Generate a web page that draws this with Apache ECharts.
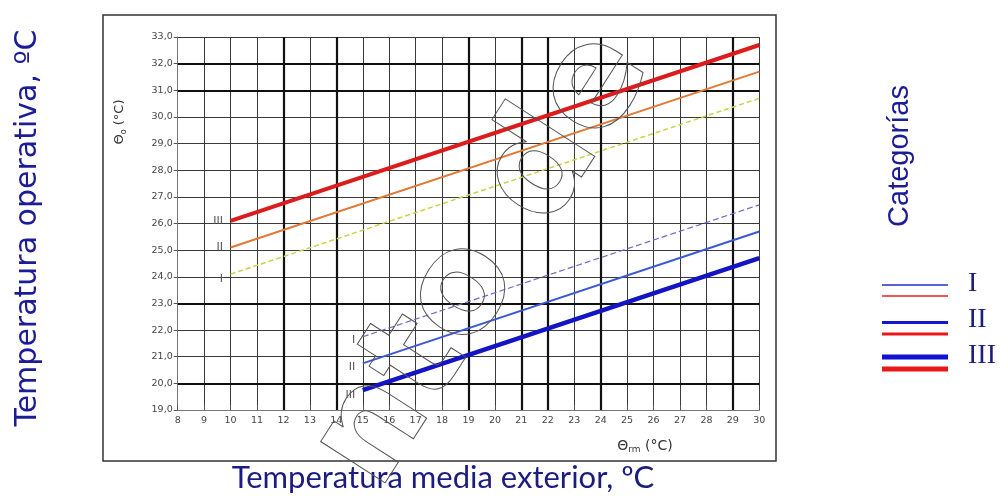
<!DOCTYPE html>
<html>
<head>
<meta charset="utf-8">
<script src="https://cdn.jsdelivr.net/npm/echarts@6/dist/echarts.min.js"></script>
<style>
html,body{margin:0;padding:0;background:#fff;}
#c{width:1001px;height:496px;}
</style>
</head>
<body>
<div id="c"></div>
<script>
// ---- data ----
const xTicks = [8, 30];            // x axis range (°C)
const yTicks = [19, 33];           // y axis range (°C)
const upperX = [10, 30];
const upperI = [24.1, 30.7];
const upperII = [25.1, 31.7];
const upperIII = [26.1, 32.7];
const lowerX = [15, 30];
const lowerI = [21.75, 26.7];
const lowerII = [20.75, 25.7];
const lowerIII = [19.75, 24.7];
const boldX = [12, 14, 19, 21, 22, 24, 29];
const boldY = [20, 23, 31, 32];
const catLabels = ['I', 'II', 'III'];

function pts(xs, ys) { return xs.map((x, i) => [x, ys[i]]); }

const chart = echarts.init(document.getElementById('c'), null, {renderer: 'canvas'});

function lineSeries(name, xs, ys, color, width, type, lbl, lblOffset) {
  const d = pts(xs, ys).map((p, i) => i === 0 ? {
    value: p,
    label: {show: true, position: 'left', distance: 7, offset: lblOffset || [0, 0],
      formatter: lbl, color: '#555', fontSize: 11, fontFamily: 'DejaVu Sans'}
  } : {value: p, label: {show: false}});
  return {
    name, type: 'line', data: d, symbol: 'circle', symbolSize: 1, showSymbol: true,
    itemStyle: {color: 'rgba(0,0,0,0)'},
    lineStyle: {color, width, type}, z: 5, silent: true, animation: false,
    clip: false, label: {show: false}
  };
}

const option = {
  animation: false,
  backgroundColor: '#fff',
  grid: {left: 177.7, right: 241.7, top: 37, bottom: 86, containLabel: false},
  xAxis: {
    type: 'value', min: xTicks[0], max: xTicks[1], interval: 1,
    axisLine: {show: true, lineStyle: {color: '#777', width: 1}},
    axisTick: {show: true, inside: true, length: 5, lineStyle: {color: '#555'}},
    axisLabel: {color: '#444', fontSize: 9.5, fontFamily: 'DejaVu Sans', margin: 6},
    splitLine: {show: true, lineStyle: {color: '#3a3a3a', width: 1}}
  },
  yAxis: {
    type: 'value', min: yTicks[0], max: yTicks[1], interval: 1,
    axisLine: {show: true, lineStyle: {color: '#777', width: 1}},
    axisTick: {show: true, length: 4, lineStyle: {color: '#555'}},
    axisLabel: {color: '#444', fontSize: 9.5, fontFamily: 'DejaVu Sans', margin: 5,
      formatter: v => v.toFixed(1).replace('.', ',')},
    splitLine: {show: true, lineStyle: {color: '#3a3a3a', width: 1}}
  },
  series: [
    {
      type: 'line', data: [], silent: true,
      markLine: {
        silent: true, symbol: 'none', animation: false,
        label: {show: false},
        lineStyle: {color: '#111', width: 2.2, type: 'solid'},
        data: boldX.map(v => ({xAxis: v})).concat(boldY.map(v => ({yAxis: v})))
      }
    },
    lineSeries('I sup', upperX, upperI, '#c8d24a', 1.5, [5, 3], catLabels[0], [0, 5]),
    lineSeries('II sup', upperX, upperII, '#e07a36', 2, 'solid', catLabels[1], [0, 0]),
    lineSeries('III sup', upperX, upperIII, '#dc1c1c', 4, 'solid', catLabels[2], [0, 0]),
    lineSeries('I inf', lowerX, lowerI, '#6c6cc8', 1.2, [6, 3], catLabels[0], [0, 3]),
    lineSeries('II inf', lowerX, lowerII, '#3d58d6', 2, 'solid', catLabels[1], [0, 4]),
    lineSeries('III inf', lowerX, lowerIII, '#1414c4', 4.5, 'solid', catLabels[2], [0, 5])
  ],
  graphic: [
    // inner figure frame
    {type: 'rect', shape: {x: 103, y: 15, width: 673, height: 446},
     style: {fill: 'none', stroke: '#333', lineWidth: 1.5}, z: 0, silent: true},
    // watermark (outlined text)
    {type: 'text', x: 485, y: 260, rotation: 1.0, z: 20, silent: true,
     style: {text: 'nto de', align: 'center', verticalAlign: 'middle',
       fontSize: 140, fontWeight: 'bold', fontFamily: 'DejaVu Sans',
       fill: 'rgba(0,0,0,0)', stroke: '#555', lineWidth: 1}},
    // inner axis names
    {type: 'text', x: 120, y: 122, rotation: Math.PI / 2, z: 10,
     style: {text: '{a|Θ}{s|o}{a| (°C)}', align: 'center', verticalAlign: 'middle',
       rich: {a: {fontSize: 13, fill: '#333', fontFamily: 'DejaVu Sans'},
              s: {fontSize: 8, fill: '#333', fontFamily: 'DejaVu Sans', padding: [7, 0, 0, 0]}}}},
    {type: 'text', x: 645, y: 446, z: 10,
     style: {text: '{a|Θ}{s|rm}{a| (°C)}', align: 'center', verticalAlign: 'middle',
       rich: {a: {fontSize: 14, fill: '#333', fontFamily: 'DejaVu Sans'},
              s: {fontSize: 9, fill: '#333', fontFamily: 'DejaVu Sans', padding: [8, 0, 0, 0]}}}},
    // outer titles
    {type: 'text', x: 28, y: 228, rotation: Math.PI / 2, z: 10,
     style: {text: 'Temperatura operativa, ºC', align: 'center', verticalAlign: 'middle',
       fontSize: 30, fill: '#1c1c96', fontFamily: 'DejaVu Sans'}},
    {type: 'text', x: 443, y: 478, z: 10,
     style: {text: 'Temperatura media exterior, ºC', align: 'center', verticalAlign: 'middle',
       fontSize: 31, fill: '#1c1c80', fontFamily: 'Lato'}},
    {type: 'text', x: 900, y: 156, rotation: Math.PI / 2, z: 10,
     style: {text: 'Categorías', align: 'center', verticalAlign: 'middle',
       fontSize: 29, fill: '#1c1c96', fontFamily: 'Liberation Sans'}},
    // legend
    {type: 'line', shape: {x1: 882, y1: 285, x2: 948, y2: 285}, style: {stroke: '#1f2fd0', lineWidth: 1.5}},
    {type: 'line', shape: {x1: 882, y1: 296, x2: 948, y2: 296}, style: {stroke: '#e82020', lineWidth: 1.5}},
    {type: 'line', shape: {x1: 882, y1: 322.5, x2: 948, y2: 322.5}, style: {stroke: '#1515d0', lineWidth: 3}},
    {type: 'line', shape: {x1: 882, y1: 334, x2: 948, y2: 334}, style: {stroke: '#e81818', lineWidth: 3}},
    {type: 'line', shape: {x1: 882, y1: 357, x2: 948, y2: 357}, style: {stroke: '#1212d0', lineWidth: 5}},
    {type: 'line', shape: {x1: 882, y1: 369, x2: 948, y2: 369}, style: {stroke: '#e81818', lineWidth: 5}},
    {type: 'text', x: 968, y: 284, style: {text: catLabels[0], verticalAlign: 'middle', fontSize: 28, fill: '#1c1c80', fontFamily: 'Liberation Serif'}},
    {type: 'text', x: 968, y: 320, style: {text: catLabels[1], verticalAlign: 'middle', fontSize: 28, fill: '#1c1c80', fontFamily: 'Liberation Serif'}},
    {type: 'text', x: 968, y: 356, style: {text: catLabels[2], verticalAlign: 'middle', fontSize: 28, fill: '#1c1c80', fontFamily: 'Liberation Serif'}}
  ]
};
chart.setOption(option);
</script>
</body>
</html>
